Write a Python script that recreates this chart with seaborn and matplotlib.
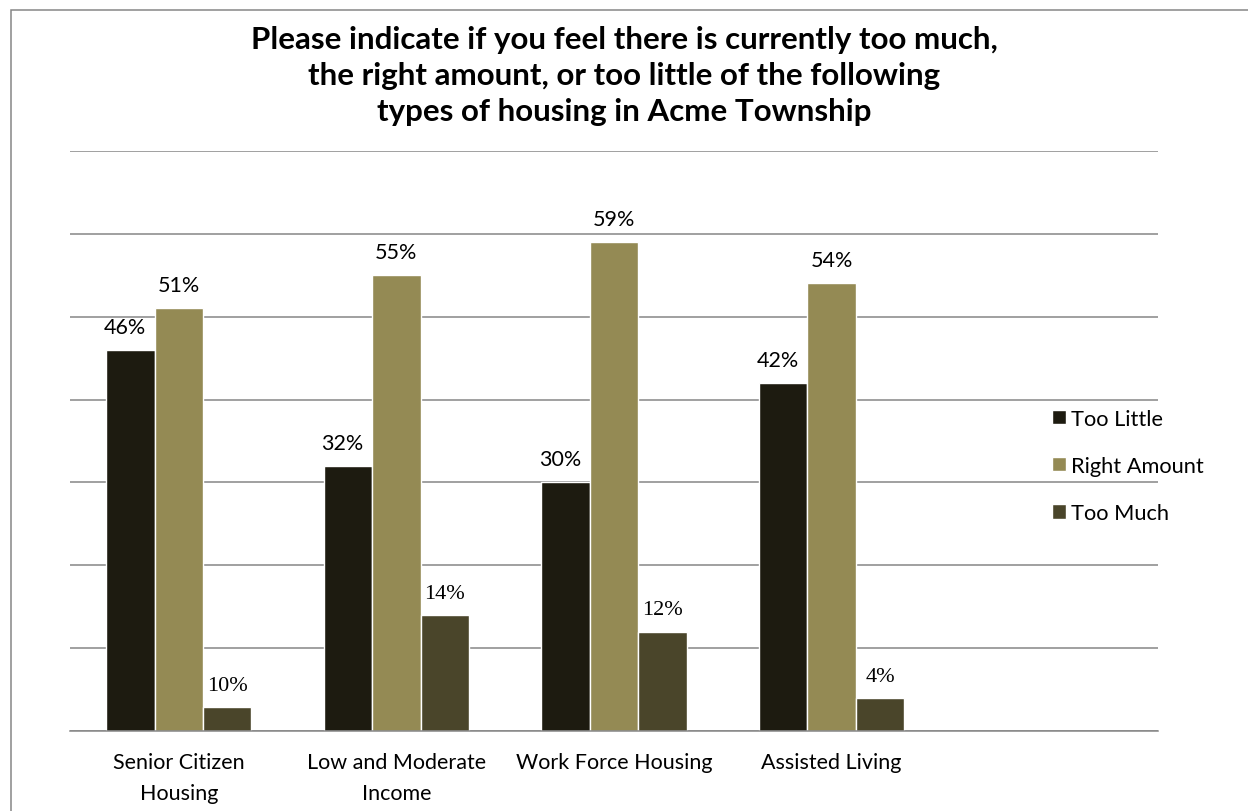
import matplotlib
matplotlib.use("Agg")
import matplotlib.pyplot as plt
import matplotlib.patches as mpatches
import pandas as pd
import seaborn as sns

categories = ["Senior Citizen\nHousing", "Low and Moderate\nIncome", "Work Force Housing", "Assisted Living"]
series = ["Too Little", "Right Amount", "Too Much"]
too_little = [46, 32, 30, 42]
right_amount = [51, 55, 59, 54]
too_much = [2.9, 14, 12, 4]  # first bar is drawn short in the original chart
too_much_labels = ["10%", "14%", "12%", "4%"]
colors = ["#1D1B10", "#948A54", "#4A452A"]

df = pd.DataFrame({
    "Category": categories * 3,
    "Response": [s for s in series for _ in categories],
    "Percent": too_little + right_amount + too_much,
})

sns.set_style("white")
plt.rcParams["font.family"] = ["Lato", "DejaVu Sans"]
plt.rcParams["text.color"] = "black"
grid_color = "#868686"

fig = plt.figure(figsize=(12.48, 8.12), dpi=100)
ax = fig.add_axes([70 / 1248, 1 - 732.3 / 812, 1088 / 1248, 580.6 / 812])

sns.barplot(data=df, x="Category", y="Percent", hue="Response", hue_order=series,
            palette=colors, saturation=1, width=0.667, errorbar=None, ax=ax)

ax.set_xlim(-0.5, 4.5)
ax.set_ylim(0, 70)
ax.set_yticks(range(0, 71, 10))
ax.yaxis.grid(True, color=grid_color, linewidth=1.1)
ax.set_axisbelow(True)
ax.tick_params(axis="y", left=False, labelleft=False)
for side in ["left", "right", "top"]:
    ax.spines[side].set_visible(False)
ax.spines["bottom"].set_color(grid_color)
ax.spines["bottom"].set_linewidth(1.1)
ax.set_xlabel("")
ax.set_ylabel("")

ax.set_xticks(range(len(categories)))
ax.set_xticklabels(categories, fontsize=15.5, color="black")
for t in ax.get_xticklabels():
    t.set_linespacing(1.65)
ax.set_xticks([i - 0.5 for i in range(6)], minor=True)
ax.tick_params(axis="x", which="major", length=0, pad=15)
ax.tick_params(axis="x", which="minor", length=5, width=1.1, color=grid_color)

# data labels
label_sets = [[f"{v}%" for v in too_little], [f"{v}%" for v in right_amount], too_much_labels]
for i, (cont, labs) in enumerate(zip(ax.containers, label_sets)):
    if i == 2:
        anns = ax.bar_label(cont, labels=labs, padding=9, fontsize=16, family="Liberation Serif",
                            color="black")
    else:
        anns = ax.bar_label(cont, labels=labs, padding=9.5, fontsize=15.5, color="black")
    if i == 0:
        for a in anns:
            a.xyann = (-4, a.xyann[1])

handles, labels = ax.get_legend_handles_labels()
ax.legend(handles, labels, loc="center left", bbox_to_anchor=(1052 / 1248, 1 - 467 / 812),
          bbox_transform=fig.transFigure, frameon=False, fontsize=15.7,
          handlelength=0.63, handleheight=0.63, handletextpad=0.25, labelspacing=1.25,
          borderpad=0, borderaxespad=0)

fig.text(0.5, 1 - 76 / 812,
         "Please indicate if you feel there is currently too much,\n"
         "the right amount, or too little of the following\n"
         "types of housing in Acme Township",
         ha="center", va="center", fontsize=22.5, fontweight="bold", linespacing=1.33,
         color="black")

# outer frame (only top and left edges fall inside the image)
fig.patches.append(mpatches.Rectangle((11 / 1248, -1), 2, 2 - 11 / 812, transform=fig.transFigure,
                                      fill=False, edgecolor=grid_color, linewidth=1.1))

fig.savefig("out.png", dpi=100)
